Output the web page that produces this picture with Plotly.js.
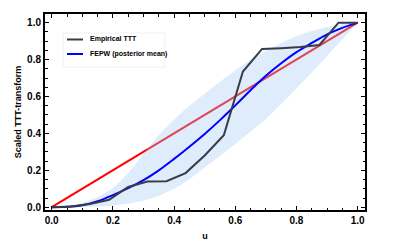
<!DOCTYPE html>
<html>
<head>
<meta charset="utf-8">
<script src="https://cdn.plot.ly/plotly-3.0.1.min.js"></script>
<style>html,body{margin:0;padding:0;background:#fff;}#chart{width:402px;height:246px;}</style>
</head>
<body>
<div id="chart"></div>
<script>
// Empirical TTT (u = i/16)
const ttt_u = [0, 0.0625, 0.125, 0.1875, 0.25, 0.3125, 0.375, 0.4375, 0.5, 0.5625, 0.625, 0.6875, 0.75, 0.8125, 0.875, 0.9375, 1.0];
const ttt_y = [0, 0.004, 0.018, 0.04, 0.11, 0.139, 0.141, 0.185, 0.28, 0.39, 0.735, 0.858, 0.862, 0.868, 0.879, 1.0, 1.0];

// FEPW posterior mean and credible band
const grid_u = [0, 0.05, 0.1, 0.15, 0.2, 0.25, 0.3, 0.35, 0.4, 0.45, 0.5, 0.55, 0.6, 0.65, 0.7, 0.75, 0.8, 0.85, 0.9, 0.95, 1.0];
const mean_y = [0, 0.002, 0.011, 0.033, 0.066, 0.104, 0.147, 0.2, 0.262, 0.328, 0.397, 0.472, 0.552, 0.634, 0.712, 0.78, 0.84, 0.89, 0.937, 0.972, 1.0];
const upper_y = [0, 0.006, 0.024, 0.055, 0.105, 0.185, 0.29, 0.39, 0.475, 0.55, 0.615, 0.68, 0.742, 0.798, 0.848, 0.89, 0.927, 0.955, 0.977, 0.992, 1.0];
const lower_y = [0, 0.0, 0.001, 0.004, 0.01, 0.02, 0.036, 0.062, 0.1, 0.152, 0.215, 0.278, 0.343, 0.41, 0.48, 0.56, 0.645, 0.73, 0.82, 0.91, 1.0];

// Reference (exponential) line
const ref_u = [0, 1];
const ref_y = [0, 1];

const legendNames = ["Empirical TTT", "FEPW (posterior mean)"];
const xTicks = [0, 0.2, 0.4, 0.6, 0.8, 1.0];
const yTicks = [0, 0.2, 0.4, 0.6, 0.8, 1.0];

const FONT = "Liberation Sans, Arial, sans-serif";
const TTT_COLOR = 'rgb(55,60,70)';

const traces = [
  {x: ref_u, y: ref_y, mode: 'lines', line: {color: 'rgb(255,0,0)', width: 2}, showlegend: false, hoverinfo: 'skip'},
  {x: grid_u, y: lower_y, mode: 'lines', line: {width: 0, color: 'rgba(0,0,0,0)', shape: 'spline'}, showlegend: false, hoverinfo: 'skip'},
  {x: grid_u, y: upper_y, mode: 'lines', line: {width: 0, color: 'rgba(0,0,0,0)', shape: 'spline'}, fill: 'tonexty', fillcolor: 'rgba(160,200,245,0.35)', showlegend: false, hoverinfo: 'skip'},
  {x: grid_u, y: mean_y, mode: 'lines', name: legendNames[1], line: {color: 'rgb(0,0,255)', width: 2, shape: 'spline'}, showlegend: false},
  {x: ttt_u, y: ttt_y, mode: 'lines', name: legendNames[0], line: {color: TTT_COLOR, width: 2}, showlegend: false}
];

const axisCommon = {
  showline: true, linewidth: 2, linecolor: 'black', mirror: 'allticks',
  ticks: 'inside', ticklen: 4, tickwidth: 1, tickcolor: 'black',
  showgrid: false, zeroline: false,
  tickformat: '.1f',
  tickfont: {family: FONT, size: 10, color: '#000', weight: 'bold'},
  minor: {dtick: 0.05, ticks: 'inside', ticklen: 2.5, tickwidth: 1, tickcolor: 'black', showgrid: false}
};

const lx0 = 63, lx1 = 165, ly0 = 33, ly1 = 67;
const L = 45, R = 37, T = 14, B = 36;
const PW = 402 - L - R, PH = 246 - T - B;
const px = v => (v - L) / PW;
const py = v => (246 - B - v) / PH;

const layout = {
  width: 402, height: 246,
  margin: {l: L, r: R, t: T, b: B, pad: 0},
  paper_bgcolor: 'white', plot_bgcolor: 'white',
  showlegend: false,
  xaxis: Object.assign({}, axisCommon, {
    range: [-0.022, 1.024], tickvals: xTicks,
    title: {text: 'u', font: {family: FONT, size: 9, color: '#000', weight: 'bold'}, standoff: 8}
  }),
  yaxis: Object.assign({}, axisCommon, {
    range: [-0.015, 1.047], tickvals: yTicks,
    title: {text: 'Scaled TTT-transform', font: {family: FONT, size: 9, color: '#000', weight: 'bold'}, standoff: 4}
  }),
  shapes: [
    {type: 'rect', xref: 'paper', yref: 'paper', x0: px(lx0), x1: px(lx1), y0: py(ly1), y1: py(ly0),
     fillcolor: 'white', line: {color: 'rgba(0,0,0,0.06)', width: 1}},
    {type: 'line', xref: 'paper', yref: 'paper', x0: px(67), x1: px(83), y0: py(39.5), y1: py(39.5),
     line: {color: TTT_COLOR, width: 2}},
    {type: 'line', xref: 'paper', yref: 'paper', x0: px(67), x1: px(83), y0: py(54), y1: py(54),
     line: {color: 'rgb(0,0,255)', width: 2}}
  ],
  annotations: [
    {xref: 'paper', yref: 'paper', x: px(88), y: py(39.5), xanchor: 'left', yanchor: 'middle', showarrow: false,
     text: legendNames[0], font: {family: FONT, size: 7, color: '#000', weight: 'bold'}},
    {xref: 'paper', yref: 'paper', x: px(88), y: py(54), xanchor: 'left', yanchor: 'middle', showarrow: false,
     text: legendNames[1], font: {family: FONT, size: 7, color: '#000', weight: 'bold'}}
  ]
};

Plotly.newPlot('chart', traces, layout, {displayModeBar: false, staticPlot: true});
</script>
</body>
</html>
